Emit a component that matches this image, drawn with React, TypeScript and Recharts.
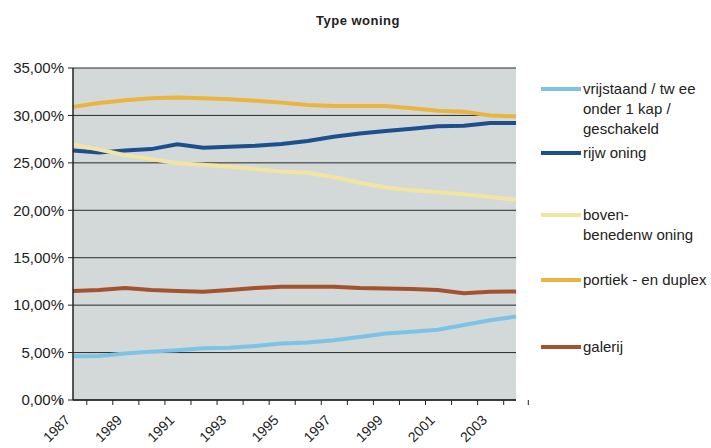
import React from "react";
import { LineChart, Line, XAxis, YAxis, CartesianGrid } from "recharts";

const years = [
  "1987", "1988", "1989", "1990", "1991", "1992", "1993", "1994", "1995",
  "1996", "1997", "1998", "1999", "2000", "2001", "2002", "2003", "2004",
];
const vrijstaand = [4.6, 4.65, 4.9, 5.1, 5.25, 5.45, 5.5, 5.7, 5.95, 6.05, 6.3, 6.65, 7.0, 7.2, 7.4, 7.9, 8.4, 8.8];
const rijwoning = [26.3, 26.1, 26.3, 26.45, 26.95, 26.6, 26.7, 26.8, 27.0, 27.3, 27.75, 28.1, 28.35, 28.6, 28.85, 28.9, 29.2, 29.2];
const boven = [26.9, 26.4, 25.8, 25.4, 24.95, 24.8, 24.6, 24.35, 24.1, 23.95, 23.5, 22.9, 22.4, 22.1, 21.9, 21.7, 21.4, 21.1];
const portiek = [30.9, 31.3, 31.6, 31.8, 31.9, 31.8, 31.7, 31.55, 31.35, 31.1, 31.0, 31.0, 31.0, 30.75, 30.5, 30.4, 30.0, 29.9];
const galerij = [11.5, 11.6, 11.8, 11.6, 11.5, 11.4, 11.6, 11.8, 11.95, 11.95, 11.95, 11.8, 11.75, 11.7, 11.6, 11.25, 11.4, 11.45];
const yTicks = [0, 5, 10, 15, 20, 25, 30, 35];

const series = [
  { key: "vrijstaand", label: ["vrijstaand / tw ee", "onder 1 kap /", "geschakeld"], color: "#7cc3e6", top: 79 },
  { key: "rijwoning", label: ["rijw oning"], color: "#1d4f8f", top: 143 },
  { key: "boven", label: ["boven-", "benedenw oning"], color: "#f2e5a2", top: 205 },
  { key: "portiek", label: ["portiek - en duplex"], color: "#eab53e", top: 270 },
  { key: "galerij", label: ["galerij"], color: "#a4522e", top: 337 },
];

const data = years.map((year, i) => ({
  year,
  vrijstaand: vrijstaand[i],
  rijwoning: rijwoning[i],
  boven: boven[i],
  portiek: portiek[i],
  galerij: galerij[i],
}));

const W = 711;
const H = 448;
const M = { top: 68, right: 195, bottom: 48, left: 73 };
const band = (W - M.left - M.right) / years.length;
const FONT = "'Liberation Sans', Arial, sans-serif";

const YearTick = (props: any) => {
  const { x, y, payload, index } = props;
  return (
    <g>
      <line x1={x - band / 2} y1={y} x2={x - band / 2} y2={y + 5} stroke="#222" />
      {index === years.length - 1 && (
        <line x1={x + band / 2} y1={y} x2={x + band / 2} y2={y + 5} stroke="#222" />
      )}
      {index % 2 === 0 && (
        <text
          x={0}
          y={0}
          transform={`translate(${x - 2},${y + 21}) rotate(-45)`}
          textAnchor="end"
          fontSize={14}
          fill="#222"
          fontFamily={FONT}
        >
          {payload.value}
        </text>
      )}
    </g>
  );
};

export default function App() {
  return (
    <div style={{ position: "absolute", left: 0, top: 0, width: W, height: H, background: "#fff", fontFamily: FONT }}>
      <div
        style={{
          position: "absolute",
          top: 13,
          left: 0,
          width: 716,
          textAlign: "center",
          fontSize: 13,
          fontWeight: "bold",
          letterSpacing: 0.5,
          color: "#222",
        }}
      >
        Type woning
      </div>
      <LineChart
        width={W}
        height={H}
        data={data}
        margin={{ top: M.top, right: M.right, bottom: 0, left: 8 }}
      >
        <CartesianGrid
          vertical={false}
          stroke="#2a2a2a"
          strokeWidth={1}
          fill="#d3d8d8"
          fillOpacity={1}
        />
        <XAxis
          dataKey="year"
          height={M.bottom}
          interval={0}
          tickSize={0}
          tickMargin={0}
          tickLine={false}
          axisLine={{ stroke: "#222", strokeWidth: 1.5 }}
          tick={<YearTick />}
        />
        <YAxis
          width={M.left - 8}
          domain={[0, 35]}
          ticks={yTicks}
          interval={0}
          tickSize={5}
          tickMargin={4}
          axisLine={{ stroke: "#222", strokeWidth: 1.5 }}
          tickLine={{ stroke: "#222" }}
          tick={{ fill: "#222", fontSize: 15, fontFamily: FONT }}
          tickFormatter={(v: number) => v.toFixed(2).replace(".", ",") + "%"}
        />
        <YAxis
          yAxisId="right"
          orientation="right"
          width={0}
          tick={false}
          tickLine={false}
          axisLine={{ stroke: "#bbb" }}
        />
        {series.map((s) => (
          <Line
            key={s.key}
            type="linear"
            dataKey={s.key}
            stroke={s.color}
            strokeWidth={4}
            dot={false}
            isAnimationActive={false}
          />
        ))}
      </LineChart>
      {series.map((s) => (
        <div key={s.key} style={{ position: "absolute", left: 541, top: s.top, display: "flex" }}>
          <div style={{ width: 40, height: 4, background: s.color, marginTop: 8 }} />
          <div style={{ marginLeft: 2, fontSize: 15, lineHeight: "20px", color: "#222", whiteSpace: "nowrap" }}>
            {s.label.map((l) => (
              <div key={l}>{l}</div>
            ))}
          </div>
        </div>
      ))}
    </div>
  );
}
